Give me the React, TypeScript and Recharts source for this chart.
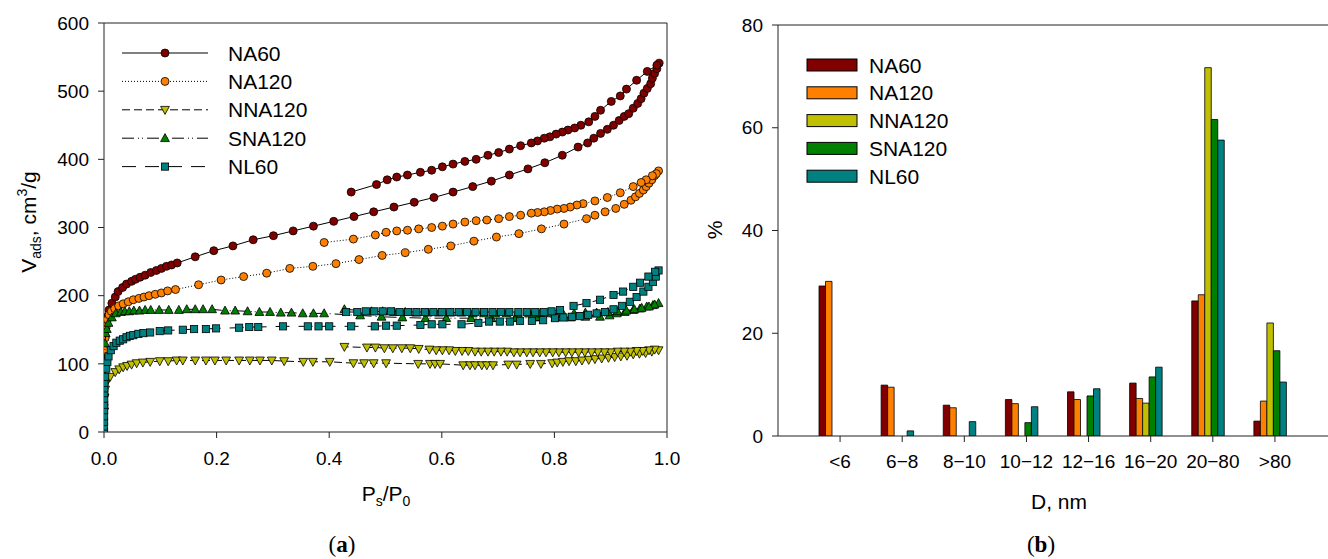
import {
  ScatterChart,
  Scatter,
  BarChart,
  Bar,
  XAxis,
  YAxis,
  ReferenceLine,
  Label,
  Legend,
} from 'recharts';

// ---------- panel (a): N2 isotherms, [P/P0, V] ----------
const na60Ads: [number, number][] = [
  [0.0002, 40], [0.0005, 80], [0.001, 115], [0.002, 140], [0.003, 152], [0.004, 160],
  [0.006, 169], [0.009, 179], [0.014, 189], [0.02, 198], [0.025, 206], [0.033, 212],
  [0.04, 217], [0.049, 221], [0.056, 224], [0.064, 227], [0.073, 230], [0.083, 234],
  [0.093, 237], [0.102, 240], [0.111, 243], [0.12, 245], [0.13, 248], [0.162, 257],
  [0.195, 266], [0.229, 273], [0.265, 282], [0.301, 288], [0.336, 295], [0.372, 302],
  [0.408, 309], [0.444, 316], [0.479, 323], [0.515, 330], [0.551, 337], [0.586, 344],
  [0.62, 352], [0.655, 360], [0.688, 368], [0.72, 377], [0.753, 386], [0.783, 395],
  [0.814, 406], [0.842, 418], [0.859, 424], [0.87, 431], [0.882, 438], [0.894, 444],
  [0.905, 450], [0.915, 457], [0.924, 463], [0.932, 467], [0.94, 475], [0.948, 482],
  [0.954, 489], [0.959, 497], [0.965, 504], [0.971, 511], [0.974, 519], [0.978, 526],
  [0.982, 533], [0.986, 541],
];
const na60Des: [number, number][] = [
  [0.982, 538], [0.965, 529], [0.946, 516], [0.928, 503], [0.917, 493], [0.901, 485],
  [0.882, 472], [0.872, 463], [0.861, 455], [0.847, 450], [0.836, 446], [0.824, 443],
  [0.814, 440], [0.803, 437], [0.792, 433], [0.782, 431], [0.77, 427], [0.759, 424],
  [0.74, 420], [0.72, 415], [0.701, 410], [0.682, 406], [0.661, 400], [0.641, 397],
  [0.62, 393], [0.601, 389], [0.582, 384], [0.562, 381], [0.539, 377], [0.52, 374],
  [0.503, 370], [0.484, 363], [0.439, 352],
];
const na120Ads: [number, number][] = [
  [0.0005, 100], [0.001, 120], [0.002, 138], [0.004, 155], [0.006, 165], [0.009, 172],
  [0.013, 177], [0.019, 181], [0.026, 185], [0.034, 188], [0.043, 191], [0.052, 194],
  [0.062, 196], [0.071, 198], [0.08, 200], [0.091, 202], [0.102, 204], [0.113, 207],
  [0.127, 209], [0.168, 216], [0.208, 223], [0.248, 228], [0.289, 233], [0.33, 240],
  [0.371, 243], [0.412, 247], [0.453, 253], [0.494, 259], [0.535, 263], [0.576, 268],
  [0.616, 273], [0.657, 280], [0.697, 286], [0.737, 291], [0.777, 298], [0.817, 305],
  [0.857, 313], [0.872, 318], [0.89, 323], [0.909, 328], [0.924, 334], [0.936, 340],
  [0.944, 345], [0.951, 350], [0.958, 355], [0.963, 360], [0.968, 365], [0.973, 370],
  [0.978, 376], [0.985, 383],
];
const na120Des: [number, number][] = [
  [0.981, 379], [0.974, 376], [0.963, 370], [0.954, 366], [0.94, 360], [0.917, 351],
  [0.894, 344], [0.872, 339], [0.851, 335], [0.84, 333], [0.828, 330], [0.817, 328],
  [0.805, 327], [0.793, 325], [0.782, 323], [0.77, 322], [0.759, 321], [0.74, 318],
  [0.72, 316], [0.701, 313], [0.68, 311], [0.661, 310], [0.641, 308], [0.62, 305],
  [0.601, 302], [0.582, 300], [0.559, 298], [0.539, 296], [0.52, 295], [0.501, 293],
  [0.482, 289], [0.443, 283], [0.391, 278],
];
const nna120Ads: [number, number][] = [
  [0.0005, 30], [0.001, 50], [0.002, 62], [0.004, 72], [0.007, 78], [0.011, 81],
  [0.02, 88], [0.027, 92], [0.034, 95], [0.041, 97], [0.049, 99], [0.058, 101],
  [0.069, 102], [0.082, 103], [0.099, 104], [0.114, 104], [0.129, 105], [0.14, 105],
  [0.162, 105], [0.181, 105], [0.197, 105], [0.217, 105], [0.24, 105], [0.259, 105],
  [0.277, 105], [0.298, 105], [0.32, 104], [0.354, 103], [0.371, 103], [0.401, 103],
  [0.443, 101], [0.462, 101], [0.479, 101], [0.501, 101], [0.558, 100], [0.579, 100],
  [0.588, 100], [0.597, 100], [0.638, 98], [0.65, 98], [0.659, 98], [0.671, 98],
  [0.68, 98], [0.691, 98], [0.718, 99], [0.733, 99], [0.757, 100], [0.776, 100],
  [0.796, 101], [0.805, 102], [0.815, 103], [0.826, 104], [0.838, 104], [0.849, 105],
  [0.861, 106], [0.872, 107], [0.884, 108], [0.896, 109], [0.907, 110], [0.918, 111],
  [0.929, 112], [0.94, 114], [0.951, 115], [0.962, 116], [0.973, 118], [0.985, 120],
];
const nna120Des: [number, number][] = [
  [0.978, 121], [0.968, 120], [0.957, 119], [0.946, 119], [0.935, 118], [0.924, 118],
  [0.912, 118], [0.9, 117], [0.889, 117], [0.877, 117], [0.866, 117], [0.854, 117],
  [0.843, 117], [0.831, 117], [0.82, 117], [0.808, 117], [0.797, 117], [0.785, 117],
  [0.774, 117], [0.762, 117], [0.751, 117], [0.739, 117], [0.728, 117], [0.716, 118],
  [0.705, 118], [0.693, 118], [0.682, 118], [0.67, 118], [0.659, 118], [0.647, 119],
  [0.636, 119], [0.624, 119], [0.613, 120], [0.601, 120], [0.59, 120], [0.578, 121],
  [0.559, 122], [0.544, 123], [0.529, 123], [0.513, 123], [0.498, 123], [0.482, 124],
  [0.467, 124], [0.427, 125],
];
const sna120Ads: [number, number][] = [
  [0.0005, 60], [0.001, 100], [0.002, 130], [0.003, 145], [0.005, 151], [0.008, 160],
  [0.014, 168], [0.021, 174], [0.03, 176], [0.037, 177], [0.045, 177], [0.053, 178],
  [0.063, 178], [0.073, 179], [0.083, 179], [0.098, 179], [0.115, 179], [0.133, 179],
  [0.147, 180], [0.162, 180], [0.176, 180], [0.192, 180], [0.215, 178], [0.233, 178],
  [0.255, 177], [0.276, 176], [0.295, 176], [0.314, 175], [0.333, 175], [0.353, 174],
  [0.372, 174], [0.391, 174], [0.455, 171], [0.493, 169], [0.53, 168], [0.571, 167],
  [0.608, 167], [0.652, 167], [0.688, 167], [0.731, 167], [0.768, 168], [0.802, 168],
  [0.829, 168], [0.855, 169], [0.881, 169], [0.898, 171], [0.911, 174], [0.925, 176],
  [0.94, 179], [0.952, 181], [0.964, 184], [0.975, 186], [0.985, 189],
];
const sna120Des: [number, number][] = [
  [0.978, 187], [0.968, 184], [0.955, 182], [0.942, 180], [0.928, 178], [0.912, 177],
  [0.895, 176], [0.875, 175], [0.855, 175], [0.835, 174], [0.815, 174], [0.795, 174],
  [0.775, 174], [0.755, 174], [0.735, 174], [0.715, 174], [0.695, 174], [0.675, 174],
  [0.655, 174], [0.635, 175], [0.615, 175], [0.595, 175], [0.575, 175], [0.555, 175],
  [0.535, 176], [0.515, 176], [0.495, 177], [0.475, 177], [0.427, 180],
];
const nl60Ads: [number, number][] = [
  [0.0001, 0.5], [0.0001, 8], [0.0002, 15], [0.0002, 23], [0.0003, 32], [0.0003, 40],
  [0.0004, 49], [0.0005, 57], [0.0006, 64], [0.0008, 72], [0.002, 81], [0.004, 93],
  [0.006, 103], [0.008, 111], [0.012, 120], [0.017, 126], [0.022, 131], [0.028, 134],
  [0.034, 136], [0.04, 139], [0.046, 141], [0.052, 142], [0.061, 144], [0.07, 145],
  [0.082, 146], [0.099, 148], [0.114, 149], [0.14, 150], [0.16, 151], [0.181, 151],
  [0.199, 152], [0.24, 153], [0.258, 154], [0.274, 154], [0.318, 155], [0.362, 155],
  [0.381, 155], [0.4, 155], [0.439, 155], [0.481, 155], [0.501, 156], [0.52, 156],
  [0.562, 157], [0.582, 158], [0.601, 158], [0.635, 158], [0.665, 160], [0.684, 162],
  [0.703, 162], [0.721, 162], [0.739, 163], [0.76, 163], [0.78, 164], [0.801, 167],
  [0.816, 168], [0.831, 169], [0.845, 170], [0.86, 172], [0.875, 174], [0.89, 176],
  [0.905, 180], [0.92, 185], [0.934, 191], [0.946, 198], [0.958, 206], [0.967, 213],
  [0.975, 220], [0.98, 228], [0.985, 237],
];
const nl60Des: [number, number][] = [
  [0.979, 235], [0.967, 228], [0.952, 219], [0.94, 213], [0.922, 206], [0.905, 201],
  [0.881, 194], [0.857, 189], [0.834, 185], [0.81, 179], [0.795, 177], [0.781, 176],
  [0.766, 176], [0.751, 176], [0.736, 176], [0.72, 176], [0.705, 176], [0.69, 176],
  [0.675, 176], [0.66, 176], [0.645, 176], [0.63, 176], [0.615, 176], [0.6, 176],
  [0.585, 176], [0.57, 176], [0.555, 176], [0.54, 176], [0.525, 176], [0.51, 177],
  [0.495, 177], [0.48, 177], [0.465, 177], [0.45, 176], [0.43, 176],
];
const xTicksA = [0, 0.2, 0.4, 0.6, 0.8, 1.0];
const yTicksA = [0, 100, 200, 300, 400, 500, 600];

// ---------- panel (b): pore size distribution, % ----------
const sizeBins = ['<6', '6−8', '8−10', '10−12', '12−16', '16−20', '20−80', '>80'];
const na60Pct = [29.2, 9.9, 6.0, 7.1, 8.6, 10.3, 26.3, 2.9];
const na120Pct = [30.1, 9.5, 5.5, 6.3, 7.1, 7.3, 27.5, 6.8];
const nna120Pct = [0, 0, 0, 0, 0, 6.4, 71.7, 22.0];
const sna120Pct = [0, 0, 0, 2.6, 7.8, 11.5, 61.6, 16.6];
const nl60Pct = [0, 1.0, 2.8, 5.7, 9.2, 13.4, 57.6, 10.5];
const yTicksB = [0, 20, 40, 60, 80];

const FONT = 'Arial, "Liberation Sans", sans-serif';
const SERIF = '"Liberation Serif", "DejaVu Serif", serif';
const AXIS = '#222';

type Kind = 'circle' | 'down' | 'up' | 'square';

const isotherms = [
  { name: 'NA60', color: '#800000', kind: 'circle' as Kind, dash: undefined, pts: [...na60Ads, ...na60Des] },
  { name: 'NA120', color: '#FF8000', kind: 'circle' as Kind, dash: '1 2', pts: [...na120Ads, ...na120Des] },
  { name: 'NNA120', color: '#C0C000', kind: 'down' as Kind, dash: '8 4', pts: [...nna120Ads, ...nna120Des] },
  { name: 'SNA120', color: '#008000', kind: 'up' as Kind, dash: '12 4 1 3 1 4', pts: [...sna120Ads, ...sna120Des] },
  { name: 'NL60', color: '#008080', kind: 'square' as Kind, dash: '14 9', pts: [...nl60Ads, ...nl60Des] },
];

const barSeries = [
  { key: 'NA60', color: '#800000', values: na60Pct },
  { key: 'NA120', color: '#FF8000', values: na120Pct },
  { key: 'NNA120', color: '#C0C000', values: nna120Pct },
  { key: 'SNA120', color: '#008000', values: sna120Pct },
  { key: 'NL60', color: '#008080', values: nl60Pct },
];

const barData = sizeBins.map((cat, i) => {
  const row: Record<string, string | number> = { cat };
  barSeries.forEach((s) => (row[s.key] = s.values[i]));
  return row;
});

function Marker({ cx, cy, kind, fill }: { cx: number; cy: number; kind: Kind; fill: string }) {
  const common = { fill, stroke: '#000', strokeWidth: 0.8 };
  if (kind === 'circle') return <circle cx={cx} cy={cy} r={4} {...common} />;
  if (kind === 'square') return <rect x={cx - 3.6} y={cy - 3.6} width={7.2} height={7.2} {...common} />;
  if (kind === 'up') return <path d={`M${cx},${cy - 4.6}L${cx + 4.4},${cy + 3.4}L${cx - 4.4},${cy + 3.4}Z`} {...common} />;
  return <path d={`M${cx},${cy + 4.6}L${cx + 4.4},${cy - 3.4}L${cx - 4.4},${cy - 3.4}Z`} {...common} />;
}

function IsothermLegend() {
  return (
    <svg width={220} height={150} style={{ display: 'block' }}>
      {isotherms.map((s, i) => {
        const y = 13 + i * 28.4;
        return (
          <g key={s.name}>
            <line x1={12} x2={98} y1={y} y2={y} stroke="#000" strokeWidth={1} strokeDasharray={s.dash} />
            <Marker cx={55} cy={y} kind={s.kind} fill={s.color} />
            <text x={118} y={y + 7.5} fontSize={21} fontFamily={FONT} fill="#000">
              {s.name}
            </text>
          </g>
        );
      })}
    </svg>
  );
}

function BarLegend() {
  return (
    <svg width={200} height={150} style={{ display: 'block' }}>
      {barSeries.map((s, i) => {
        const y = 15 + i * 27.8;
        return (
          <g key={s.key}>
            <rect x={9} y={y - 6} width={50} height={12} fill={s.color} stroke="#000" strokeWidth={1} />
            <text x={71} y={y + 7.5} fontSize={21} fontFamily={FONT} fill="#000">
              {s.key}
            </text>
          </g>
        );
      })}
    </svg>
  );
}

function IsothermPanel() {
  const tick = { fontSize: 19, fill: '#000', fontFamily: FONT };
  return (
    <ScatterChart width={700} height={559} margin={{ top: 23, right: 33, bottom: 67, left: 40 }}>
      <XAxis
        type="number"
        dataKey="p"
        domain={[0, 1]}
        ticks={xTicksA}
        tickFormatter={(v: number) => v.toFixed(1)}
        tick={tick}
        tickSize={6}
        tickMargin={14}
        height={60}
        stroke={AXIS}
        allowDataOverflow
      >
        <Label
          content={() => (
            <g fontFamily={FONT} fill="#000">
              <text x={386} y={501} textAnchor="middle" fontSize={21}>
                P<tspan fontSize={14} dy={5}>s</tspan>
                <tspan dy={-5}>/P</tspan>
                <tspan fontSize={14} dy={5}>0</tspan>
              </text>
              <text x={342} y={552} textAnchor="middle" fontSize={23} fontFamily={SERIF}>
                (<tspan fontWeight="bold">a</tspan>)
              </text>
            </g>
          )}
        />
      </XAxis>
      <YAxis
        type="number"
        dataKey="v"
        domain={[0, 600]}
        ticks={yTicksA}
        tick={tick}
        tickSize={6}
        tickMargin={9}
        width={64}
        stroke={AXIS}
        allowDataOverflow
      >
        <Label
          content={() => (
            <text
              transform="translate(36 222) rotate(-90)"
              textAnchor="middle"
              fontSize={21}
              fontFamily={FONT}
              fill="#000"
            >
              V<tspan fontSize={14} dy={5}>ads</tspan>
              <tspan dy={-5}>, cm</tspan>
              <tspan fontSize={14} dy={-9}>3</tspan>
              <tspan dy={9}>/g</tspan>
            </text>
          )}
        />
      </YAxis>
      <ReferenceLine y={600} stroke={AXIS} strokeWidth={1} />
      <ReferenceLine x={1} stroke={AXIS} strokeWidth={1} />
      {isotherms.map((s) => (
        <Scatter
          key={s.name}
          name={s.name}
          data={s.pts.map(([p, v]) => ({ p, v }))}
          line={{ stroke: '#000', strokeWidth: 1, strokeDasharray: s.dash }}
          lineJointType="linear"
          shape={(props: any) => <Marker cx={props.cx} cy={props.cy} kind={s.kind} fill={s.color} />}
          isAnimationActive={false}
        />
      ))}
      <Legend
        layout="vertical"
        align="center"
        verticalAlign="middle"
        content={() => <IsothermLegend />}
        wrapperStyle={{ position: 'absolute', left: 110, top: 40, width: 220, height: 150 }}
      />
    </ScatterChart>
  );
}

function PorePanel() {
  const tick = { fontSize: 19, fill: '#000', fontFamily: FONT };
  return (
    <BarChart
      width={700}
      height={559}
      data={barData}
      barGap={0}
      barSize={6.5}
      margin={{ top: 25, right: 63, bottom: 63, left: 28 }}
    >
      <XAxis
        xAxisId="main"
        dataKey="cat"
        padding={{ left: 31, right: 31 }}
        tick={tick}
        tickSize={6}
        tickMargin={13}
        height={60}
        stroke={AXIS}
        interval={0}
      >
        <Label
          content={() => (
            <g fontFamily={FONT} fill="#000">
              <text x={359} y={509} textAnchor="middle" fontSize={21}>
                D, nm
              </text>
              <text x={341} y={552} textAnchor="middle" fontSize={23} fontFamily={SERIF}>
                (<tspan fontWeight="bold">b</tspan>)
              </text>
            </g>
          )}
        />
      </XAxis>
      <XAxis xAxisId="bars" dataKey="cat" hide height={0} padding={{ left: 26, right: 36 }} />
      <YAxis
        domain={[0, 80]}
        ticks={yTicksB}
        tick={tick}
        tickSize={6}
        tickMargin={9}
        width={50}
        stroke={AXIS}
        allowDataOverflow
      >
        <Label
          content={() => (
            <text transform="translate(22 230) rotate(-90)" textAnchor="middle" fontSize={21} fontFamily={FONT} fill="#000">
              %
            </text>
          )}
        />
      </YAxis>
      <ReferenceLine xAxisId="main" y={80} stroke={AXIS} strokeWidth={1} />
      {barSeries.map((s) => (
        <Bar
          key={s.key}
          xAxisId="bars"
          dataKey={s.key}
          fill={s.color}
          stroke="#000"
          strokeWidth={0.8}
          isAnimationActive={false}
        />
      ))}
      <Legend
        layout="vertical"
        align="center"
        verticalAlign="middle"
        content={() => <BarLegend />}
        wrapperStyle={{ position: 'absolute', left: 98, top: 50, width: 200, height: 150 }}
      />
    </BarChart>
  );
}

export default function App() {
  return (
    <div
      style={{
        position: 'absolute',
        left: 0,
        top: 0,
        width: 1328,
        height: 559,
        overflow: 'hidden',
        background: '#fff',
      }}
    >
      <div style={{ position: 'absolute', left: 0, top: 0 }}>
        <IsothermPanel />
      </div>
      <div style={{ position: 'absolute', left: 700, top: 0 }}>
        <PorePanel />
      </div>
    </div>
  );
}
